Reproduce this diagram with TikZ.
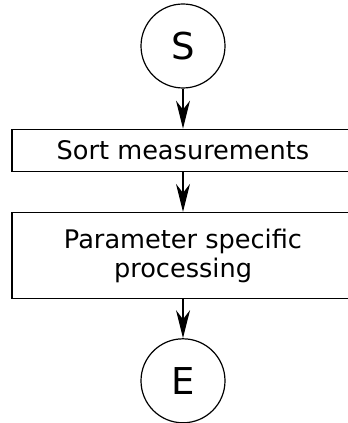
\documentclass[tikz,border=0pt]{standalone}
\usepackage{fontspec}
\setmainfont{DejaVu Sans}
\usetikzlibrary{positioning,arrows.meta}
\begin{document}
\begin{tikzpicture}[x=1pt, y=1pt,
   terminal/.style={circle, line width=1.2pt, minimum size=84pt, inner sep=0pt, draw=black, font=\fontsize{37}{40}\selectfont},
   stepbox/.style={rectangle, line width=1.3pt, minimum width=342pt, inner sep=0pt, draw=black, align=center, font=\fontsize{25.6}{29}\selectfont},
   flow/.style={line width=1.2pt, -{Stealth[length=28pt, width=14pt, inset=9pt]}}]
   \useasboundingbox (0,0) rectangle (348,423);
   \node[terminal] (start) at (183,377) {S};
   \node[stepbox, minimum height=42pt, below=40pt of start] (sort) {Sort measurements};
   \node[stepbox, minimum height=86pt, below=40pt of sort] (process) {Parameter specific\\processing};
   \node[terminal, below=39pt of process] (stop) {E};
   \draw[flow] (start) -- (sort);
   \draw[flow] (sort) -- (process);
   \draw[flow] (process) -- (stop);
\end{tikzpicture}
\end{document}
